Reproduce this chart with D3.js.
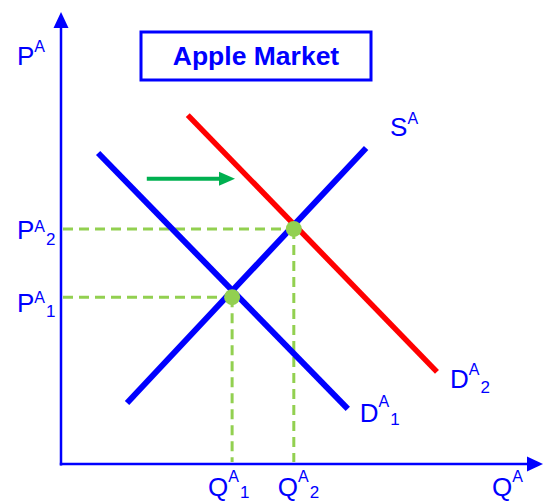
<!DOCTYPE html>
<html>
<head>
<meta charset="utf-8">
<script src="https://cdn.jsdelivr.net/npm/d3@7"></script>
<style>
  body { margin: 0; background: #fff; }
  svg { display: block; font-family: "Liberation Sans", Arial, sans-serif; }
</style>
</head>
<body>
<div id="chart"></div>
<script>
// curve end points, in quantity / price units
var supplyA = [[1.37, 1.35], [6.33, 6.99]];
var demandA1 = [[0.77, 6.88], [5.95, 1.22]];
var demandA2 = [[2.63, 7.72], [7.80, 2.04]];
// equilibria: [Q, P]
var equilibria = [[3.55, 3.69], [4.83, 5.20]];
// shift arrow
var shiftArrow = [[1.78, 6.31], [3.61, 6.31]];
var title = "Apple Market";

var blue = "#0000ff", red = "#ff0000", lime = "#92d050", green = "#00b050";

var svg = d3.select("#chart").append("svg")
  .attr("width", 545)
  .attr("height", 502);

var x = d3.scaleLinear().domain([0, 10]).range([61, 543]);
var y = d3.scaleLinear().domain([0, 10]).range([464, 12]);

// axes with arrow heads
svg.append("line")
  .attr("x1", x(0)).attr("y1", y(0) + 1.5)
  .attr("x2", x(0)).attr("y2", y(10) + 14)
  .attr("stroke", blue).attr("stroke-width", 2.5);
svg.append("path")
  .attr("d", "M" + (x(0) - 7.5) + "," + (y(10) + 16) + "L" + x(0) + "," + y(10) + "L" + (x(0) + 7.5) + "," + (y(10) + 16) + "Z")
  .attr("fill", blue);
svg.append("line")
  .attr("x1", x(0) - 1.2).attr("y1", y(0))
  .attr("x2", x(10) - 14).attr("y2", y(0))
  .attr("stroke", blue).attr("stroke-width", 2.5);
svg.append("path")
  .attr("d", "M" + (x(10) - 16) + "," + (y(0) - 7.5) + "L" + x(10) + "," + y(0) + "L" + (x(10) - 16) + "," + (y(0) + 7.5) + "Z")
  .attr("fill", blue);

// title box
svg.append("rect")
  .attr("x", 141).attr("y", 32)
  .attr("width", 230).attr("height", 48)
  .attr("fill", "none").attr("stroke", blue).attr("stroke-width", 3);
svg.append("text")
  .attr("x", 256).attr("y", 65)
  .attr("text-anchor", "middle")
  .attr("font-size", 26.5)
  .attr("font-weight", "bold")
  .attr("fill", blue)
  .text(title);

// dashed guides
var guides = svg.append("g")
  .attr("stroke", lime).attr("stroke-width", 3)
  .attr("stroke-dasharray", "10,6").attr("fill", "none");
equilibria.forEach(function (e) {
  guides.append("line")
    .attr("x1", x(0) + 2).attr("y1", y(e[1]))
    .attr("x2", x(e[0])).attr("y2", y(e[1]));
  guides.append("line")
    .attr("x1", x(e[0])).attr("y1", y(e[1]))
    .attr("x2", x(e[0])).attr("y2", y(0) - 2);
});

var line = d3.line().x(function (d) { return x(d[0]); }).y(function (d) { return y(d[1]); });

svg.append("path").datum(demandA2)
  .attr("d", line).attr("stroke", red).attr("stroke-width", 5.5).attr("fill", "none");
svg.append("path").datum(demandA1)
  .attr("d", line).attr("stroke", blue).attr("stroke-width", 6).attr("fill", "none");
svg.append("path").datum(supplyA)
  .attr("d", line).attr("stroke", blue).attr("stroke-width", 6).attr("fill", "none");

svg.selectAll(".eq")
  .data(equilibria)
  .enter().append("circle")
  .attr("class", "eq")
  .attr("cx", function (d) { return x(d[0]); })
  .attr("cy", function (d) { return y(d[1]); })
  .attr("r", 8)
  .attr("fill", lime);

// shift arrow
var ax0 = x(shiftArrow[0][0]), ax1 = x(shiftArrow[1][0]), ay = y(shiftArrow[0][1]);
svg.append("line")
  .attr("x1", ax0).attr("y1", ay).attr("x2", ax1 - 14).attr("y2", ay)
  .attr("stroke", green).attr("stroke-width", 4);
svg.append("path")
  .attr("d", "M" + (ax1 - 16) + "," + (ay - 7) + "L" + ax1 + "," + ay + "L" + (ax1 - 16) + "," + (ay + 7) + "Z")
  .attr("fill", green);

// labels: main letter, superscript, optional subscript
function label(lx, ly, main, sup, sub, supDy, subDy) {
  var t = svg.append("text")
    .attr("x", lx).attr("y", ly)
    .attr("fill", blue).attr("font-size", 26);
  t.append("tspan").text(main);
  t.append("tspan").attr("font-size", 16).attr("dy", supDy).text(sup);
  if (sub) {
    t.append("tspan").attr("font-size", 17).attr("dx", 1).attr("dy", subDy - supDy).text(sub);
  }
}

label(17, 65, "P", "A", null, -13);
label(x(10) - 51, 496, "Q", "A", null, -14);
label(17, y(equilibria[1][1]) + 10, "P", "A", "2", -7, 6);
label(17, y(equilibria[0][1]) + 15, "P", "A", "1", -9, 5);
label(x(equilibria[0][0]) - 24, 496, "Q", "A", "1", -14, 2);
label(x(equilibria[1][0]) - 16, 496, "Q", "A", "2", -14, 2);
label(x(supplyA[1][0]) + 24, y(supplyA[1][1]) - 12, "S", "A", null, -12);
label(x(demandA2[1][0]) + 13, y(demandA2[1][1]) + 16, "D", "A", "2", -13, 5);
label(x(demandA1[1][0]) + 12, y(demandA1[1][1]) + 13, "D", "A", "1", -15, 3);
</script>
</body>
</html>
